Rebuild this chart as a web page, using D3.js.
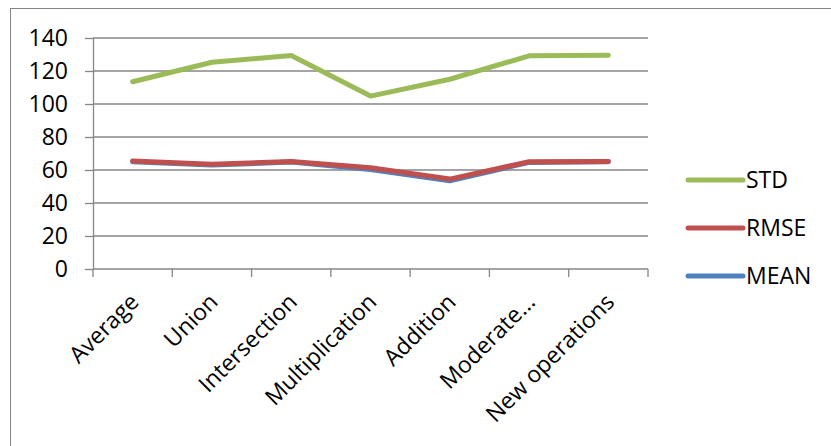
<!DOCTYPE html>
<html>
<head>
<meta charset="utf-8">
<script src="https://cdn.jsdelivr.net/npm/d3@7"></script>
<style>
  body { margin: 0; background: #fff; }
  svg { display: block; }
  text { font-family: "Open Sans", "Noto Sans", sans-serif; fill: #000; }
</style>
</head>
<body>
<svg id="chart" width="831" height="446"></svg>
<script>
const categories = ["Average", "Union", "Intersection", "Multiplication", "Addition", "Moderate...", "New operations"];
const stdValues = [113.5, 125.3, 129.4, 104.8, 115, 129.2, 129.5];
const rmseValues = [65.5, 63.5, 65.1, 61.4, 54.5, 65, 65.2];
const meanValues = [65, 63, 64.8, 60.3, 53.5, 64.6, 65];
const yTicks = [0, 20, 40, 60, 80, 100, 120, 140];

const seriesList = [
    { name: "MEAN", values: meanValues, color: "#4F81BD" },
    { name: "RMSE", values: rmseValues, color: "#C0504D" },
    { name: "STD", values: stdValues, color: "#9BBB59" }
];

const svg = d3.select("#chart");
const gridColor = "#868686";

// outer frame of the chart area
svg.append("rect").attr("x", 10.5).attr("y", 8.5).attr("width", 900).attr("height", 500)
    .attr("fill", "none").attr("stroke", gridColor).attr("stroke-width", 1);

const plotLeft = 93, plotRight = 648, plotTop = 38, plotBottom = 269;
const x = d3.scaleBand().domain(categories).range([plotLeft, plotRight]);
const y = d3.scaleLinear().domain([0, 140]).range([plotBottom, plotTop]);

// horizontal grid
svg.append("g").selectAll("line").data(yTicks.filter(d => d > 0)).enter().append("line")
    .attr("x1", plotLeft).attr("x2", plotRight)
    .attr("y1", d => y(d)).attr("y2", d => y(d))
    .attr("stroke", gridColor).attr("stroke-width", 1.3);

// y axis
const yAxis = svg.append("g").attr("transform", `translate(${plotLeft},0)`)
    .call(d3.axisLeft(y).tickValues(yTicks).tickSize(8).tickSizeOuter(0).tickPadding(17));
yAxis.select(".domain").attr("stroke", gridColor).attr("stroke-width", 1.3);
yAxis.selectAll(".tick line").attr("stroke", gridColor).attr("stroke-width", 1.3);
yAxis.selectAll("text").attr("font-size", "23px").attr("font-family", "Open Sans").attr("fill", "#000");

// x axis with ticks at band boundaries
const xAxis = svg.append("g").attr("transform", `translate(0,${plotBottom})`);
xAxis.append("line").attr("x1", plotLeft).attr("x2", plotRight).attr("stroke", gridColor).attr("stroke-width", 1.3);
const bounds = categories.map(c => x(c)).concat([plotRight]);
xAxis.selectAll(".xtick").data(bounds).enter().append("line")
    .attr("x1", d => d).attr("x2", d => d).attr("y1", 0).attr("y2", 8)
    .attr("stroke", gridColor).attr("stroke-width", 1.3);
xAxis.selectAll(".xlabel").data(categories).enter().append("text")
    .attr("transform", d => `translate(${x(d) + x.bandwidth() / 2 - 4},${23}) rotate(-45)`)
    .attr("text-anchor", "end").attr("dy", "0.7em")
    .attr("font-size", "23px")
    .text(d => d);

// lines
const line = d3.line()
    .x((d, i) => x(categories[i]) + x.bandwidth() / 2)
    .y(d => y(d));

svg.append("g").selectAll("path").data(seriesList).enter().append("path")
    .attr("d", d => line(d.values))
    .attr("fill", "none").attr("stroke", d => d.color)
    .attr("stroke-width", 5).attr("stroke-linecap", "round").attr("stroke-linejoin", "round");

// legend
const legendItems = seriesList.slice().reverse();
const legend = svg.append("g").selectAll("g").data(legendItems).enter().append("g")
    .attr("transform", (d, i) => `translate(688,${180 + i * 48})`);
legend.append("line").attr("x1", 0).attr("x2", 55)
    .attr("stroke", d => d.color).attr("stroke-width", 5).attr("stroke-linecap", "round");
legend.append("text").attr("x", 58).attr("dy", "0.36em")
    .attr("font-size", "23px").text(d => d.name);
</script>
</body>
</html>
